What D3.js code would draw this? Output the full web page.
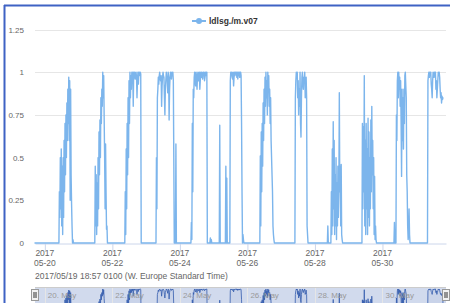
<!DOCTYPE html>
<html>
<head>
<meta charset="utf-8">
<script src="https://cdn.jsdelivr.net/npm/d3@7"></script>
<style>
  body { margin: 0; background: #fff; }
  svg { display: block; font-family: "Liberation Sans", Arial, sans-serif; }
</style>
</head>
<body>
<script>
// data: sensor ratio, sampled every 20 min during bursts, 0 in between
var seriesName = "ldlsg./m.v07"
var rangeStart = "2017-05-19T17:00"
var rangeEnd = "2017-05-31T21:10"
var sampleMinutes = 20
var burstStarts = [
  "2017-05-19T17:00", "2017-05-20T10:00", "2017-05-21T11:30", "2017-05-22T08:50",
  "2017-05-23T07:00", "2017-05-23T20:50", "2017-05-24T07:50", "2017-05-24T21:20",
  "2017-05-25T04:00", "2017-05-25T08:20", "2017-05-25T11:30", "2017-05-26T08:50",
  "2017-05-27T09:45", "2017-05-28T08:50", "2017-05-28T11:20", "2017-05-29T09:25",
  "2017-05-30T08:10", "2017-05-30T09:35", "2017-05-31T08:00"
]
var burstValues = [
  [0],
  [0, 0.3, 0.15, 0.5, 0.2, 0.55, 0.1, 0.45, 0.05, 0.5, 0.15, 0.6, 0.3, 0.7, 0.4, 0.75, 0.5, 0.82, 0.6, 0.9, 0.7, 0.97, 0.6, 0.95, 0.25, 0.9, 0.4, 0.23, 0.1, 0, 0.02, 0],
  [0, 0.45, 0.1, 0.4, 0.05, 0.35, 0.1, 0.5, 0.2, 0.65, 0.4, 0.72, 0.5, 0.85, 0.7, 0.9, 0.8, 1.0, 0.85, 0.98, 0.73, 0.5, 0.2, 0.58, 0.3, 0.08, 0.1, 0],
  [0, 0.3, 0.05, 0.55, 0.2, 0.7, 0.4, 0.85, 0.5, 0.95, 0.7, 1.0, 0.85, 0.98, 0.9, 1.0, 0.95, 1.0, 0.8, 1.0, 0.97, 1.0, 0.96, 0.98, 1.0, 0.97, 0.85, 0.95, 1.0, 0.93, 1.0, 0.98, 1.0, 1.0, 0.99, 0],
  [0, 0.5, 0.2, 0.85, 0.9, 0.97, 0.93, 0.98, 1.0, 0.96, 0.95, 0.98, 0.8, 0.92, 0.97, 1.0, 0.98, 0.97, 0.85, 0.75, 0.9, 0.95, 1.0, 0.97, 0.95, 0.88, 1.0, 0.97, 0.72, 0.9, 0.97, 1.0, 0.99, 0.96, 1.0, 0.98, 1.0, 0.95, 0.5, 0],
  [0, 0.58, 0],
  [0, 0.12, 0.02, 0.7, 0.3, 0.9, 0.85, 0.97, 1.0, 0.95, 0.92, 1.0, 0.97, 0.9, 0.98, 1.0, 0.95, 0.98, 1.0, 0.9, 0.95, 1.0, 0.97, 1.0, 0.98, 0.96, 1.0, 0.99, 1.0, 0.95, 0.97, 1.0, 0.98, 1.0, 1.0, 0],
  [0, 0.03, 0, 0.02, 0],
  [0, 0.69, 0],
  [0, 0.45, 0, 0.38, 0],
  [0, 0.95, 1.0, 0.98, 1.0, 0.97, 0.96, 1.0, 0.92, 0.97, 1.0, 0.98, 1.0, 0.99, 1.0, 0.97, 1.0, 0.96, 1.0, 0.98, 1.0, 0.97, 1.0, 1.0, 0.98, 0.7, 0.3, 0, 0.05, 0.02, 0],
  [0, 0.51, 0.1, 0.65, 0.3, 0.7, 0.45, 0.82, 0.6, 0.9, 0.7, 0.97, 0.8, 1.0, 0.85, 0.95, 0.75, 1.0, 0.9, 0.98, 0.8, 0.9, 0.7, 0.85, 0.6, 0.5, 0.4, 0.3, 0.1, 0.05, 0.02, 0],
  [0, 0.85, 0.95, 1.0, 0.97, 1.0, 0.85, 0.95, 0.75, 0.9, 0.8, 1.0, 0.7, 0.62, 0.85, 0.97, 1.0, 0.93, 0.9, 0.97, 0.96, 1.0, 0.85, 0.9, 0.97, 0.85, 0.1, 0.05, 0],
  [0, 0.1, 0],
  [0, 0.3, 0.05, 0.55, 0.1, 0.71, 0.2, 0.6, 0.05, 0.4, 0.1, 0.5, 0.02, 0.35, 0.1, 0.45, 0.15, 0.3, 0.88, 0.3, 0.45, 0.1, 0.46, 0.05, 0.02, 0],
  [0, 0.7, 0.2, 0.68, 0.3, 0.98, 0.1, 0.6, 0.05, 0.7, 0.2, 0.55, 0.05, 0.73, 0.15, 0.65, 0.1, 0.5, 0.2, 0.72, 0.3, 0.8, 0.4, 0.6, 0.2, 0.5, 0.05, 0.39, 0.02, 0.1, 0.02, 0],
  [0, 0.12, 0],
  [0, 0.75, 0.6, 0.95, 1.0, 0.85, 1.0, 0.9, 0.97, 0.8, 0.95, 0.7, 0.39, 0.9, 0.6, 0.85, 0.55, 0.9, 0.7, 0.98, 1.0, 0.92, 0.85, 0.4, 0.3, 0.1, 0.02, 0.05, 0.2, 0.05, 0],
  [0, 0.95, 0.98, 1.0, 0.97, 1.0, 0.99, 1.0, 0.93, 0.9, 0.85, 0.95, 1.0, 0.98, 0.97, 1.0, 0.99, 1.0, 0.9, 0.95, 0.85, 0.9, 0.95, 1.0, 0.98, 1.0, 0.97, 0.9, 0.85, 0.88, 0.82, 0.86, 0.84, 0.85]
]
var yTicks = [0, 0.25, 0.5, 0.75, 1, 1.25]
var yGrid = [0.75, 1, 1.25]
var xTicks = ["2017-05-20", "2017-05-22", "2017-05-24", "2017-05-26", "2017-05-28", "2017-05-30"]
var rangeLabel = "2017/05/19 18:57   0100 (W. Europe Standard Time)"

var parse = d3.timeParse("%Y-%m-%dT%H:%M")
var parseDay = d3.timeParse("%Y-%m-%d")

var points = []
burstStarts.forEach(function(s, i) {
  var t0 = parse(s)
  burstValues[i].forEach(function(v, k) {
    points.push({ t: d3.timeMinute.offset(t0, k * sampleMinutes), v: v })
  })
})

var W = 450, H = 303
var svg = d3.select("body").append("svg").attr("width", W).attr("height", H)

// screenshot frame
svg.append("rect").attr("x", 0).attr("y", 0).attr("width", W).attr("height", H).attr("fill", "#fff")
svg.append("line").attr("x1", 4).attr("x2", W).attr("y1", 5.5).attr("y2", 5.5)
  .attr("stroke", "#3f62c4").attr("stroke-width", 2)
svg.append("line").attr("x1", 4.5).attr("x2", 4.5).attr("y1", 5).attr("y2", H)
  .attr("stroke", "#3f62c4").attr("stroke-width", 2)

var xScale = d3.scaleTime().domain([parse(rangeStart), parse(rangeEnd)]).range([35, 446])
var yScale = d3.scaleLinear().domain([0, 1.25]).range([243, 29.5])

// grid
svg.selectAll("line.grid").data(yGrid).enter().append("line")
  .attr("class", "grid")
  .attr("x1", 35).attr("x2", 446)
  .attr("y1", function(d) { return Math.round(yScale(d)) + 0.5 })
  .attr("y2", function(d) { return Math.round(yScale(d)) + 0.5 })
  .attr("stroke", "#e6e6e6").attr("stroke-width", 1)

// y labels
svg.selectAll("text.ylab").data(yTicks).enter().append("text")
  .attr("class", "ylab")
  .attr("x", 24).attr("y", function(d) { return yScale(d) + 3 })
  .attr("text-anchor", "end").attr("font-size", "8px").attr("fill", "#666")
  .text(function(d) { return d3.format("~g")(d) })

// x axis
var xAxis = d3.axisBottom(xScale)
  .tickValues(xTicks.map(function(d) { return parseDay(d) }))
  .tickSize(8).tickSizeOuter(0).tickFormat("")
var gx = svg.append("g").attr("transform", "translate(0," + 243.5 + ")").call(xAxis)
gx.select(".domain").attr("stroke", "#ccd6eb")
gx.selectAll(".tick line").attr("stroke", "#ccd6eb")

var lab = svg.selectAll("text.xlab").data(xTicks).enter().append("text")
  .attr("class", "xlab")
  .attr("x", function(d) { return xScale(parseDay(d)) })
  .attr("text-anchor", "middle").attr("font-size", "8.5px").attr("fill", "#666")
lab.append("tspan").attr("x", function(d) { return xScale(parseDay(d)) }).attr("y", 256)
  .text(function(d) { return d.slice(0, 4) })
lab.append("tspan").attr("x", function(d) { return xScale(parseDay(d)) }).attr("y", 266)
  .text(function(d) { return d.slice(5) })

svg.append("text").attr("x", 35).attr("y", 279).attr("font-size", "8.5px").attr("fill", "#666")
  .text(rangeLabel)

// series
var line = d3.line().x(function(d) { return xScale(d.t) }).y(function(d) { return yScale(d.v) })
svg.append("path").datum(points).attr("d", line)
  .attr("fill", "none").attr("stroke", "#7cb5ec").attr("stroke-width", 1.4)
  .attr("stroke-linejoin", "round").attr("stroke-linecap", "round")

// legend
var lg = svg.append("g").attr("transform", "translate(199,21)")
lg.append("line").attr("x1", -7).attr("x2", 7).attr("stroke", "#7cb5ec").attr("stroke-width", 2)
lg.append("circle").attr("r", 3).attr("fill", "#7cb5ec")
lg.append("text").attr("x", 10).attr("y", 3).attr("font-size", "8.5px").attr("font-weight", "bold")
  .attr("fill", "#333").text(seriesName)

// navigator
var navTop = 287
var yNav = d3.scaleLinear().domain([0, 1]).range([navTop + 38, navTop + 2])
svg.append("rect").attr("x", 35).attr("y", navTop).attr("width", 411).attr("height", H - navTop)
  .attr("fill", "rgba(102,133,194,0.3)")
svg.selectAll("line.navgrid").data(xTicks).enter().append("line")
  .attr("x1", function(d) { return Math.round(xScale(parseDay(d))) + 0.5 })
  .attr("x2", function(d) { return Math.round(xScale(parseDay(d))) + 0.5 })
  .attr("y1", navTop).attr("y2", H).attr("stroke", "#e6e6e6").attr("stroke-width", 1)
var navArea = d3.area().x(function(d) { return xScale(d.t) }).y0(navTop + 38).y1(function(d) { return yNav(d.v) })
svg.append("path").datum(points).attr("d", navArea)
  .attr("fill", "rgba(51,92,173,0.05)").attr("stroke", "#335cad").attr("stroke-width", 0.8)
svg.selectAll("text.navlab").data(xTicks).enter().append("text")
  .attr("x", function(d) { return xScale(parseDay(d)) + 3 }).attr("y", 298)
  .attr("font-size", "8px").attr("fill", "#999")
  .text(function(d) { return d3.timeFormat("%d. %b")(parseDay(d)) })
svg.append("line").attr("x1", 35).attr("x2", 446).attr("y1", navTop + 0.5).attr("y2", navTop + 0.5)
  .attr("stroke", "#cccccc")
;[35, 446].forEach(function(x) {
  svg.append("rect").attr("x", x - 3.5).attr("y", 289.5).attr("width", 7).attr("height", 11)
    .attr("fill", "#f2f2f2").attr("stroke", "#999").attr("stroke-width", 1)
  svg.append("line").attr("x1", x - 1).attr("x2", x - 1).attr("y1", 292).attr("y2", 298).attr("stroke", "#333")
  svg.append("line").attr("x1", x + 1).attr("x2", x + 1).attr("y1", 292).attr("y2", 298).attr("stroke", "#333")
})
</script>
</body>
</html>
